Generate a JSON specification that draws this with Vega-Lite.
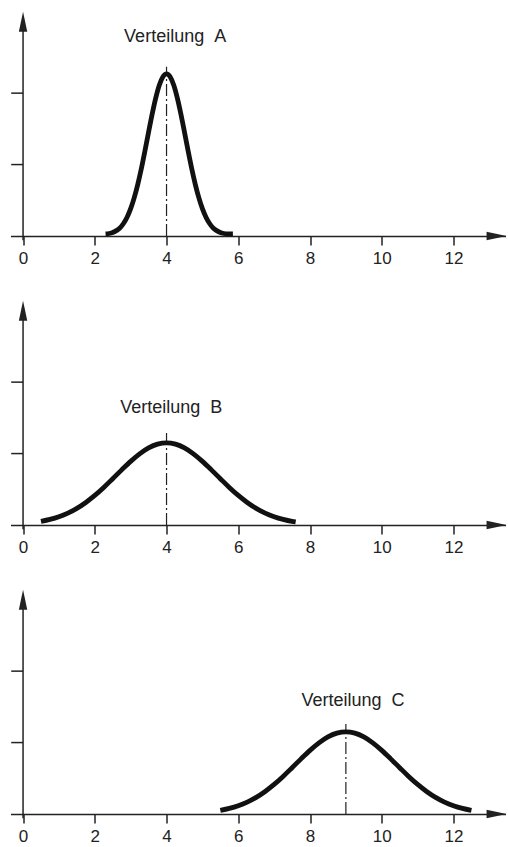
{
  "$schema": "https://vega.github.io/schema/vega-lite/v6.json",
  "padding": {"left": 9.5, "top": 11, "right": 0, "bottom": 0},
  "config": {"view": {"stroke": null}, "font": "Liberation Sans"},
  "bounds": "flush",
  "spacing": 64,
  "datasets": {
    "frame": [
      {"x": 0, "x2": 0, "y": -0.06, "y2": 3.0},
      {"x": -0.33, "x2": 0, "y": 1, "y2": 1},
      {"x": -0.33, "x2": 0, "y": 2, "y2": 2}
    ],
    "arrows": [
      {"dir": "up", "x": 0, "y": 3.0},
      {"dir": "right", "x": 13.2, "y": 0}
    ],
    "curves": [
      {"p": "A", "x": 2.3, "y": 0.03}, {"p": "A", "x": 2.4, "y": 0.035}, {"p": "A", "x": 2.5, "y": 0.048},
      {"p": "A", "x": 2.6, "y": 0.075}, {"p": "A", "x": 2.7, "y": 0.112}, {"p": "A", "x": 2.8, "y": 0.175},
      {"p": "A", "x": 2.9, "y": 0.263}, {"p": "A", "x": 3.0, "y": 0.383}, {"p": "A", "x": 3.1, "y": 0.537},
      {"p": "A", "x": 3.2, "y": 0.727}, {"p": "A", "x": 3.3, "y": 0.949}, {"p": "A", "x": 3.4, "y": 1.196},
      {"p": "A", "x": 3.5, "y": 1.455}, {"p": "A", "x": 3.6, "y": 1.708}, {"p": "A", "x": 3.7, "y": 1.934},
      {"p": "A", "x": 3.8, "y": 2.114}, {"p": "A", "x": 3.9, "y": 2.23}, {"p": "A", "x": 4.0, "y": 2.27},
      {"p": "A", "x": 4.1, "y": 2.23}, {"p": "A", "x": 4.2, "y": 2.114}, {"p": "A", "x": 4.3, "y": 1.934},
      {"p": "A", "x": 4.4, "y": 1.708}, {"p": "A", "x": 4.5, "y": 1.455}, {"p": "A", "x": 4.6, "y": 1.196},
      {"p": "A", "x": 4.7, "y": 0.949}, {"p": "A", "x": 4.8, "y": 0.727}, {"p": "A", "x": 4.9, "y": 0.537},
      {"p": "A", "x": 5.0, "y": 0.383}, {"p": "A", "x": 5.1, "y": 0.263}, {"p": "A", "x": 5.2, "y": 0.175},
      {"p": "A", "x": 5.3, "y": 0.112}, {"p": "A", "x": 5.4, "y": 0.075}, {"p": "A", "x": 5.5, "y": 0.048},
      {"p": "A", "x": 5.6, "y": 0.035}, {"p": "A", "x": 5.7, "y": 0.03}, {"p": "A", "x": 5.85, "y": 0.03},

      {"p": "B", "x": 0.5, "y": 0.05}, {"p": "B", "x": 0.75, "y": 0.078}, {"p": "B", "x": 1.0, "y": 0.116},
      {"p": "B", "x": 1.25, "y": 0.167}, {"p": "B", "x": 1.5, "y": 0.233}, {"p": "B", "x": 1.75, "y": 0.316},
      {"p": "B", "x": 2.0, "y": 0.414}, {"p": "B", "x": 2.25, "y": 0.526}, {"p": "B", "x": 2.5, "y": 0.648},
      {"p": "B", "x": 2.75, "y": 0.772}, {"p": "B", "x": 3.0, "y": 0.891}, {"p": "B", "x": 3.25, "y": 0.996},
      {"p": "B", "x": 3.5, "y": 1.079}, {"p": "B", "x": 3.75, "y": 1.132}, {"p": "B", "x": 4.0, "y": 1.15},
      {"p": "B", "x": 4.25, "y": 1.132}, {"p": "B", "x": 4.5, "y": 1.079}, {"p": "B", "x": 4.75, "y": 0.996},
      {"p": "B", "x": 5.0, "y": 0.891}, {"p": "B", "x": 5.25, "y": 0.772}, {"p": "B", "x": 5.5, "y": 0.648},
      {"p": "B", "x": 5.75, "y": 0.526}, {"p": "B", "x": 6.0, "y": 0.414}, {"p": "B", "x": 6.25, "y": 0.316},
      {"p": "B", "x": 6.5, "y": 0.233}, {"p": "B", "x": 6.75, "y": 0.167}, {"p": "B", "x": 7.0, "y": 0.116},
      {"p": "B", "x": 7.25, "y": 0.078}, {"p": "B", "x": 7.5, "y": 0.05}, {"p": "B", "x": 7.6, "y": 0.042},

      {"p": "C", "x": 5.5, "y": 0.05}, {"p": "C", "x": 5.75, "y": 0.078}, {"p": "C", "x": 6.0, "y": 0.116},
      {"p": "C", "x": 6.25, "y": 0.167}, {"p": "C", "x": 6.5, "y": 0.233}, {"p": "C", "x": 6.75, "y": 0.316},
      {"p": "C", "x": 7.0, "y": 0.414}, {"p": "C", "x": 7.25, "y": 0.526}, {"p": "C", "x": 7.5, "y": 0.648},
      {"p": "C", "x": 7.75, "y": 0.772}, {"p": "C", "x": 8.0, "y": 0.891}, {"p": "C", "x": 8.25, "y": 0.996},
      {"p": "C", "x": 8.5, "y": 1.079}, {"p": "C", "x": 8.75, "y": 1.132}, {"p": "C", "x": 9.0, "y": 1.15},
      {"p": "C", "x": 9.25, "y": 1.132}, {"p": "C", "x": 9.5, "y": 1.079}, {"p": "C", "x": 9.75, "y": 0.996},
      {"p": "C", "x": 10.0, "y": 0.891}, {"p": "C", "x": 10.25, "y": 0.772}, {"p": "C", "x": 10.5, "y": 0.648},
      {"p": "C", "x": 10.75, "y": 0.526}, {"p": "C", "x": 11.0, "y": 0.414}, {"p": "C", "x": 11.25, "y": 0.316},
      {"p": "C", "x": 11.5, "y": 0.233}, {"p": "C", "x": 11.75, "y": 0.167}, {"p": "C", "x": 12.0, "y": 0.116},
      {"p": "C", "x": 12.25, "y": 0.078}, {"p": "C", "x": 12.5, "y": 0.05}
    ],
    "centers": [
      {"p": "A", "x": 4.0, "y": 0, "y2": 2.37},
      {"p": "B", "x": 4.0, "y": 0, "y2": 1.3},
      {"p": "C", "x": 9.0, "y": 0, "y2": 1.26}
    ],
    "labels": [
      {"p": "A", "x": 4.24, "y": 2.79, "text": "Verteilung\u00a0\u00a0A"},
      {"p": "B", "x": 4.13, "y": 1.64, "text": "Verteilung\u00a0\u00a0B"},
      {"p": "C", "x": 9.2, "y": 1.58, "text": "Verteilung\u00a0\u00a0C"}
    ]
  },
  "vconcat": [
    {
      "width": 495, "height": 225,
      "layer": [
        {"data": {"name": "frame"}, "mark": {"type": "rule", "color": "#222", "strokeWidth": 1.5},
         "encoding": {
           "x": {"field": "x", "type": "quantitative", "scale": {"domain": [-0.35, 13.45], "nice": false, "zero": false},
                 "axis": {"values": [0, 2, 4, 6, 8, 10, 12], "title": null, "grid": false, "domainColor": "#222", "domainWidth": 1.5, "tickColor": "#222", "tickWidth": 1.5, "tickSize": 9, "labelFontSize": 17, "labelColor": "#222", "labelPadding": 5, "labelFont": "Liberation Sans", "labelFlush": false}},
           "x2": {"field": "x2"},
           "y": {"field": "y", "type": "quantitative", "scale": {"domain": [0, 3.15], "nice": false, "zero": false}, "axis": null},
           "y2": {"field": "y2"}}},
        {"data": {"name": "arrows"}, "transform": [{"filter": "datum.dir === 'up'"}],
         "mark": {"type": "point", "shape": "M0,-1L0.42,1L-0.42,1Z", "size": 400, "filled": true, "color": "#222", "opacity": 1},
         "encoding": {"x": {"field": "x", "type": "quantitative"}, "y": {"field": "y", "type": "quantitative"}}},
        {"data": {"name": "arrows"}, "transform": [{"filter": "datum.dir === 'right'"}],
         "mark": {"type": "point", "shape": "M1,0L-1,-0.42L-1,0.42Z", "size": 400, "filled": true, "color": "#222", "opacity": 1},
         "encoding": {"x": {"field": "x", "type": "quantitative"}, "y": {"field": "y", "type": "quantitative"}}},
        {"data": {"name": "centers"}, "transform": [{"filter": "datum.p === 'A'"}],
         "mark": {"type": "rule", "color": "#222", "strokeWidth": 1.2, "strokeDash": [12, 3, 2, 3]},
         "encoding": {"x": {"field": "x", "type": "quantitative"}, "y": {"field": "y", "type": "quantitative"}, "y2": {"field": "y2"}}},
        {"data": {"name": "curves"}, "transform": [{"filter": "datum.p === 'A'"}],
         "mark": {"type": "line", "color": "#111", "strokeWidth": 4.8, "strokeCap": "butt", "interpolate": "monotone"},
         "encoding": {"x": {"field": "x", "type": "quantitative"}, "y": {"field": "y", "type": "quantitative"}}},
        {"data": {"name": "labels"}, "transform": [{"filter": "datum.p === 'A'"}],
         "mark": {"type": "text", "font": "Liberation Sans", "fontSize": 18, "color": "#222", "align": "center", "baseline": "middle"},
         "encoding": {"x": {"field": "x", "type": "quantitative"}, "y": {"field": "y", "type": "quantitative"}, "text": {"field": "text"}}}
      ]
    },
    {
      "width": 495, "height": 225,
      "layer": [
        {"data": {"name": "frame"}, "mark": {"type": "rule", "color": "#222", "strokeWidth": 1.5},
         "encoding": {
           "x": {"field": "x", "type": "quantitative", "scale": {"domain": [-0.35, 13.45], "nice": false, "zero": false},
                 "axis": {"values": [0, 2, 4, 6, 8, 10, 12], "title": null, "grid": false, "domainColor": "#222", "domainWidth": 1.5, "tickColor": "#222", "tickWidth": 1.5, "tickSize": 9, "labelFontSize": 17, "labelColor": "#222", "labelPadding": 5, "labelFont": "Liberation Sans", "labelFlush": false}},
           "x2": {"field": "x2"},
           "y": {"field": "y", "type": "quantitative", "scale": {"domain": [0, 3.15], "nice": false, "zero": false}, "axis": null},
           "y2": {"field": "y2"}}},
        {"data": {"name": "arrows"}, "transform": [{"filter": "datum.dir === 'up'"}],
         "mark": {"type": "point", "shape": "M0,-1L0.42,1L-0.42,1Z", "size": 400, "filled": true, "color": "#222", "opacity": 1},
         "encoding": {"x": {"field": "x", "type": "quantitative"}, "y": {"field": "y", "type": "quantitative"}}},
        {"data": {"name": "arrows"}, "transform": [{"filter": "datum.dir === 'right'"}],
         "mark": {"type": "point", "shape": "M1,0L-1,-0.42L-1,0.42Z", "size": 400, "filled": true, "color": "#222", "opacity": 1},
         "encoding": {"x": {"field": "x", "type": "quantitative"}, "y": {"field": "y", "type": "quantitative"}}},
        {"data": {"name": "centers"}, "transform": [{"filter": "datum.p === 'B'"}],
         "mark": {"type": "rule", "color": "#222", "strokeWidth": 1.2, "strokeDash": [12, 3, 2, 3]},
         "encoding": {"x": {"field": "x", "type": "quantitative"}, "y": {"field": "y", "type": "quantitative"}, "y2": {"field": "y2"}}},
        {"data": {"name": "curves"}, "transform": [{"filter": "datum.p === 'B'"}],
         "mark": {"type": "line", "color": "#111", "strokeWidth": 4.8, "strokeCap": "butt", "interpolate": "monotone"},
         "encoding": {"x": {"field": "x", "type": "quantitative"}, "y": {"field": "y", "type": "quantitative"}}},
        {"data": {"name": "labels"}, "transform": [{"filter": "datum.p === 'B'"}],
         "mark": {"type": "text", "font": "Liberation Sans", "fontSize": 18, "color": "#222", "align": "center", "baseline": "middle"},
         "encoding": {"x": {"field": "x", "type": "quantitative"}, "y": {"field": "y", "type": "quantitative"}, "text": {"field": "text"}}}
      ]
    },
    {
      "width": 495, "height": 225,
      "layer": [
        {"data": {"name": "frame"}, "mark": {"type": "rule", "color": "#222", "strokeWidth": 1.5},
         "encoding": {
           "x": {"field": "x", "type": "quantitative", "scale": {"domain": [-0.35, 13.45], "nice": false, "zero": false},
                 "axis": {"values": [0, 2, 4, 6, 8, 10, 12], "title": null, "grid": false, "domainColor": "#222", "domainWidth": 1.5, "tickColor": "#222", "tickWidth": 1.5, "tickSize": 9, "labelFontSize": 17, "labelColor": "#222", "labelPadding": 5, "labelFont": "Liberation Sans", "labelFlush": false}},
           "x2": {"field": "x2"},
           "y": {"field": "y", "type": "quantitative", "scale": {"domain": [0, 3.15], "nice": false, "zero": false}, "axis": null},
           "y2": {"field": "y2"}}},
        {"data": {"name": "arrows"}, "transform": [{"filter": "datum.dir === 'up'"}],
         "mark": {"type": "point", "shape": "M0,-1L0.42,1L-0.42,1Z", "size": 400, "filled": true, "color": "#222", "opacity": 1},
         "encoding": {"x": {"field": "x", "type": "quantitative"}, "y": {"field": "y", "type": "quantitative"}}},
        {"data": {"name": "arrows"}, "transform": [{"filter": "datum.dir === 'right'"}],
         "mark": {"type": "point", "shape": "M1,0L-1,-0.42L-1,0.42Z", "size": 400, "filled": true, "color": "#222", "opacity": 1},
         "encoding": {"x": {"field": "x", "type": "quantitative"}, "y": {"field": "y", "type": "quantitative"}}},
        {"data": {"name": "centers"}, "transform": [{"filter": "datum.p === 'C'"}],
         "mark": {"type": "rule", "color": "#222", "strokeWidth": 1.2, "strokeDash": [12, 3, 2, 3]},
         "encoding": {"x": {"field": "x", "type": "quantitative"}, "y": {"field": "y", "type": "quantitative"}, "y2": {"field": "y2"}}},
        {"data": {"name": "curves"}, "transform": [{"filter": "datum.p === 'C'"}],
         "mark": {"type": "line", "color": "#111", "strokeWidth": 4.8, "strokeCap": "butt", "interpolate": "monotone"},
         "encoding": {"x": {"field": "x", "type": "quantitative"}, "y": {"field": "y", "type": "quantitative"}}},
        {"data": {"name": "labels"}, "transform": [{"filter": "datum.p === 'C'"}],
         "mark": {"type": "text", "font": "Liberation Sans", "fontSize": 18, "color": "#222", "align": "center", "baseline": "middle"},
         "encoding": {"x": {"field": "x", "type": "quantitative"}, "y": {"field": "y", "type": "quantitative"}, "text": {"field": "text"}}}
      ]
    }
  ]
}
